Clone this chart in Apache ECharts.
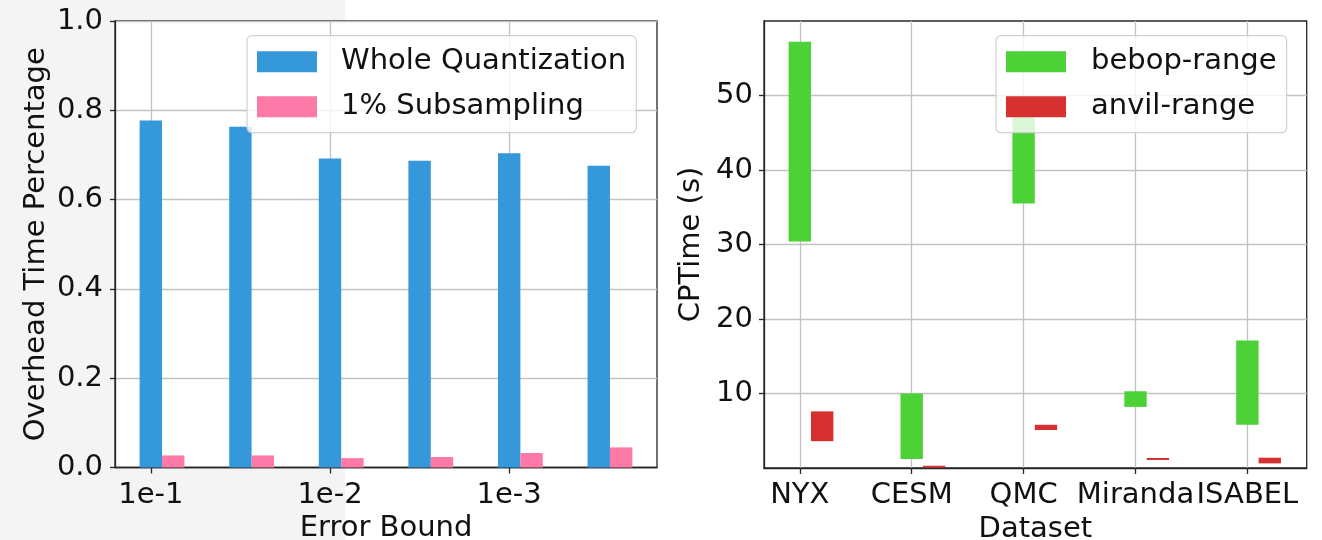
<!DOCTYPE html>
<html><head><meta charset="utf-8">
<script src="https://cdn.jsdelivr.net/npm/echarts@6/dist/echarts.min.js"></script>
<style>html,body{margin:0;padding:0;background:#fff}#c{width:1322px;height:540px}</style>
</head><body><div id="c"></div>
<script>
// ---- data (left chart) ----
const errorBoundPositions = [0, 1, 2, 3, 4, 5];
const errorBoundTickPositions = [0, 2, 4];
const errorBoundTickLabels = ['1e-1', '1e-2', '1e-3'];
const wholeQuantization = [0.777, 0.763, 0.692, 0.687, 0.704, 0.676];
const subsampling1pct = [0.027, 0.027, 0.021, 0.0235, 0.0325, 0.045];
const overheadTicks = [0, 0.2, 0.4, 0.6, 0.8, 1.0];
// ---- data (right chart) ----
const datasets = ['NYX', 'CESM', 'QMC', 'Miranda', 'ISABEL'];
const bebopLow  = [30.4, 1.2, 35.5, 8.2, 5.8];
const bebopHigh = [57.2, 10.0, 48.0, 10.3, 17.1];
const anvilLow  = [3.6, 0.05, 5.1, 1.07, 0.62];
const anvilHigh = [7.6, 0.3, 5.8, 1.34, 1.38];
const cpTimeTicks = [10, 20, 30, 40, 50];

const FONT = 'DejaVu Sans';
const FS = 29;
const INK = '#111';
const SPINE = '#262626';
const GRIDC = '#c2c2c2';

function barRenderer(offset, width) {
  return function (params, api) {
    const x = api.value(0), y0 = api.value(1), y1 = api.value(2);
    const p0 = api.coord([x + offset - width / 2, y1]);
    const p1 = api.coord([x + offset + width / 2, y0]);
    return {
      type: 'rect',
      shape: { x: p0[0], y: p0[1], width: p1[0] - p0[0], height: p1[1] - p0[1] },
      style: { fill: api.visual('color') }
    };
  };
}

const leftBlue = errorBoundPositions.map((x, i) => [x, 0, wholeQuantization[i]]);
const leftPink = errorBoundPositions.map((x, i) => [x, 0, subsampling1pct[i]]);
const rightGreen = datasets.map((d, i) => [i, bebopLow[i], bebopHigh[i]]);
const rightRed = datasets.map((d, i) => [i, anvilLow[i], anvilHigh[i]]);

const axisLine = { show: true, onZero: false, lineStyle: { color: SPINE, width: 1.3 } };
const tickStyle = { color: SPINE, width: 1.3 };
const splitLine = { show: true, lineStyle: { color: GRIDC, width: 1.3 } };
const labelBase = { fontSize: FS, color: INK, fontFamily: FONT };
const nameStyle = { fontSize: FS, color: INK, fontFamily: FONT };

const legendBase = {
  orient: 'vertical', align: 'left', icon: 'rect',
  itemWidth: 60, itemHeight: 21, itemGap: 15,
  padding: [11, 10, 11, 10],
  backgroundColor: 'rgba(255,255,255,0.8)',
  borderColor: 'rgba(204,204,204,0.9)', borderWidth: 1.2, borderRadius: 5,
  z: 10,
  textStyle: { fontSize: FS, color: INK, fontFamily: FONT, padding: [0, 0, 0, 19], lineHeight: 30 }
};

const option = {
  animation: false,
  backgroundColor: '#ffffff',
  graphic: [{ type: 'rect', z: -100, silent: true, shape: { x: 0, y: 0, width: 345, height: 540 }, style: { fill: '#f4f4f4' } }],
  grid: [
    { left: 115, top: 21, width: 542, height: 446.5, show: true, backgroundColor: '#fff', borderColor: SPINE, borderWidth: 1.3, containLabel: false, outerBoundsMode: 'none' },
    { left: 764, top: 21, width: 542.7, height: 447, show: true, backgroundColor: '#fff', borderColor: SPINE, borderWidth: 1.3, containLabel: false, outerBoundsMode: 'none' }
  ],
  legend: [
    Object.assign({}, legendBase, { left: 247, top: 35.7, data: ['Whole Quantization', '1% Subsampling'] }),
    Object.assign({}, legendBase, { left: 996, top: 35.7, data: ['bebop-range', 'anvil-range'], textStyle: Object.assign({}, legendBase.textStyle, { padding: [0, 0, 0, 20] }) })
  ],
  xAxis: [
    {
      gridIndex: 0, type: 'value', min: -0.4, max: 5.65,
      axisLine: axisLine,
      axisTick: { show: true, customValues: errorBoundTickPositions, length: 6, lineStyle: tickStyle },
      axisLabel: Object.assign({}, labelBase, { customValues: errorBoundTickPositions, margin: 13,
        formatter: v => errorBoundTickLabels[errorBoundTickPositions.indexOf(Math.round(v))] }),
      splitLine: splitLine,
      name: 'Error Bound', nameLocation: 'middle', nameGap: 46, nameTextStyle: nameStyle
    },
    {
      gridIndex: 1, type: 'value', min: -0.32, max: 4.53,
      axisLine: axisLine,
      axisTick: { show: true, customValues: [0, 1, 2, 3, 4], length: 6, lineStyle: tickStyle },
      axisLabel: Object.assign({}, labelBase, { customValues: [0, 1, 2, 3, 4], margin: 13,
        formatter: v => datasets[Math.round(v)] }),
      splitLine: splitLine,
      name: 'Dataset', nameLocation: 'middle', nameGap: 46, nameTextStyle: nameStyle
    }
  ],
  yAxis: [
    {
      gridIndex: 0, type: 'value', min: 0, max: 1, interval: 0.2,
      axisLine: axisLine,
      axisTick: { show: true, length: 5, lineStyle: tickStyle },
      axisLabel: Object.assign({}, labelBase, { margin: 12, formatter: v => v.toFixed(1) }),
      splitLine: splitLine,
      name: 'Overhead Time Percentage', nameLocation: 'middle', nameGap: 64, nameTextStyle: nameStyle
    },
    {
      gridIndex: 1, type: 'value', min: 0, max: 60, interval: 10,
      axisLine: axisLine,
      axisTick: { show: true, length: 5, customValues: cpTimeTicks, lineStyle: tickStyle },
      axisLabel: Object.assign({}, labelBase, { margin: 11, customValues: cpTimeTicks, formatter: v => String(v) }),
      splitLine: splitLine,
      name: 'CPTime (s)', nameLocation: 'middle', nameGap: 58, nameTextStyle: nameStyle
    }
  ],
  series: [
    { name: 'Whole Quantization', type: 'custom', xAxisIndex: 0, yAxisIndex: 0, itemStyle: { color: '#3498db' },
      renderItem: barRenderer(0, 0.25), encode: { x: 0, y: [1, 2] }, data: leftBlue, z: 2 },
    { name: '1% Subsampling', type: 'custom', xAxisIndex: 0, yAxisIndex: 0, itemStyle: { color: '#fd79a8' },
      renderItem: barRenderer(0.25, 0.25), encode: { x: 0, y: [1, 2] }, data: leftPink, z: 2 },
    { name: 'bebop-range', type: 'custom', xAxisIndex: 1, yAxisIndex: 1, itemStyle: { color: '#4cd137' },
      renderItem: barRenderer(0, 0.2), encode: { x: 0, y: [1, 2] }, data: rightGreen, z: 2 },
    { name: 'anvil-range', type: 'custom', xAxisIndex: 1, yAxisIndex: 1, itemStyle: { color: '#d63031' },
      renderItem: barRenderer(0.2, 0.2), encode: { x: 0, y: [1, 2] }, data: rightRed, z: 2 }
  ]
};

const chart = echarts.init(document.getElementById('c'), null, { renderer: 'canvas' });
chart.setOption(option);
</script>
</body></html>
